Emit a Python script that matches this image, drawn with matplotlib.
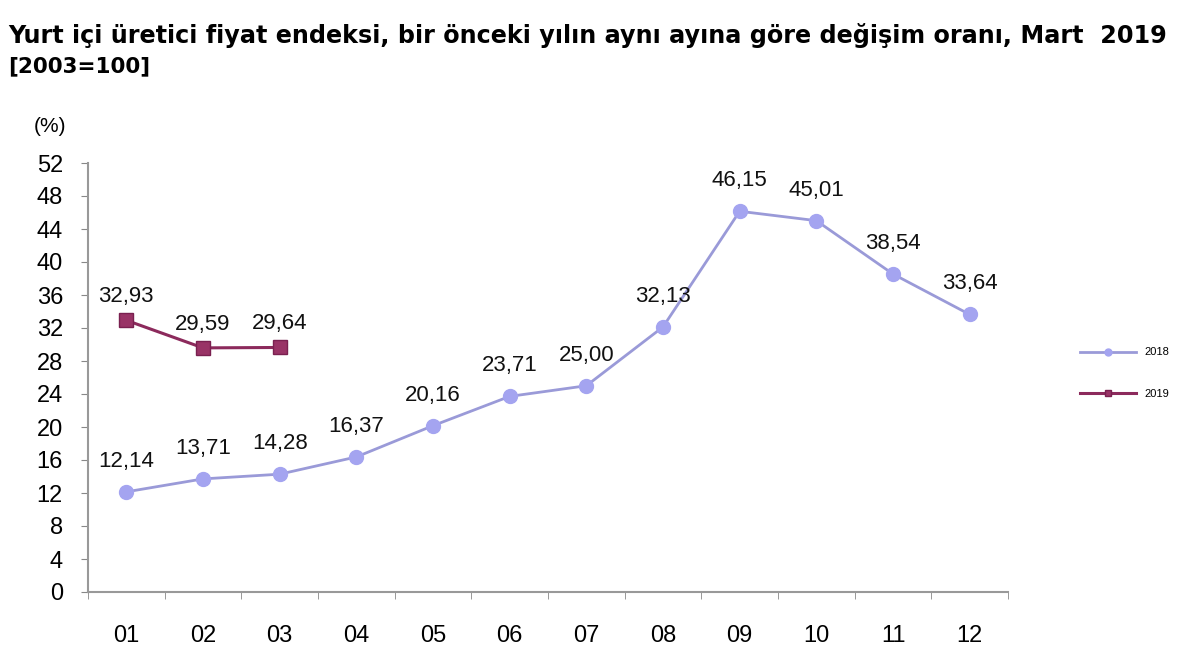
import numpy as np
import matplotlib.pyplot as plt

plt.rcParams['font.family'] = ['Liberation Sans', 'DejaVu Sans']

months = ['01', '02', '03', '04', '05', '06', '07', '08', '09', '10', '11', '12']
values_2018 = [12.14, 13.71, 14.28, 16.37, 20.16, 23.71, 25.00, 32.13, 46.15, 45.01, 38.54, 33.64]
values_2019 = [32.93, 29.59, 29.64]
y_ticks = list(range(0, 53, 4))

fig = plt.figure(figsize=(12, 6.66), dpi=100)
ax = fig.add_axes([88 / 1200, 1 - 592 / 666, 920 / 1200, (592 - 163) / 666])

x18 = np.arange(len(values_2018))
x19 = np.arange(len(values_2019))

ax.plot(x18, values_2018, color='#9a9ad8', lw=2, marker='o', ms=10,
        mfc='#a4a4f0', mec='#a4a4f0', label='2018')
ax.plot(x19, values_2019, color='#8c2a5c', lw=2.2, marker='s', ms=10,
        mfc='#993366', mec='#7a2050', label='2019')

def fmt(v):
    return f'{v:.2f}'.replace('.', ',')

for x, v in zip(x18, values_2018):
    ax.annotate(fmt(v), (x, v), xytext=(0, 22), textcoords='offset points',
                ha='center', va='center', fontsize=16, color='#111111')
for x, v in zip(x19, values_2019):
    ax.annotate(fmt(v), (x, v), xytext=(0, 17), textcoords='offset points',
                ha='center', va='center', fontsize=16, color='#111111')

ax.set_xlim(-0.5, 11.5)
ax.set_ylim(0, 52)
ax.set_yticks(y_ticks)
ax.set_yticklabels([str(t) for t in y_ticks], fontsize=17)
ax.set_xticks(x18)
ax.set_xticklabels(months, fontsize=17)
ax.set_xticks(np.arange(-0.5, 12, 1), minor=True)
ax.tick_params(axis='x', which='major', length=0, pad=24)
ax.tick_params(axis='x', which='minor', length=5, color='#888888')
ax.tick_params(axis='y', length=5, color='#888888', pad=13)

for side in ['top', 'right']:
    ax.spines[side].set_visible(False)
for side in ['left', 'bottom']:
    ax.spines[side].set_color('#999999')
    ax.spines[side].set_linewidth(1.5)

title_font = dict(family='DejaVu Sans', fontweight='bold', va='center', ha='left')
fig.text(8 / 1200, 1 - 35 / 666, 'Yurt içi üretici fiyat endeksi, bir önceki yılın aynı ayına göre değişim oranı, Mart  2019',
         fontsize=17.2, **title_font)
fig.text(8 / 1200, 1 - 66 / 666, '[2003=100]', fontsize=15.5, **title_font)
fig.text(50 / 1200, 1 - 127 / 666, '(%)', fontsize=15, va='center', ha='center')

leg = fig.legend(loc='center left', bbox_to_anchor=(1070 / 1200, 1 - 373 / 666),
                 frameon=False, fontsize=8, markerscale=0.5, handlelength=5,
                 labelspacing=2.8)

fig.savefig('out.png', dpi=100)
